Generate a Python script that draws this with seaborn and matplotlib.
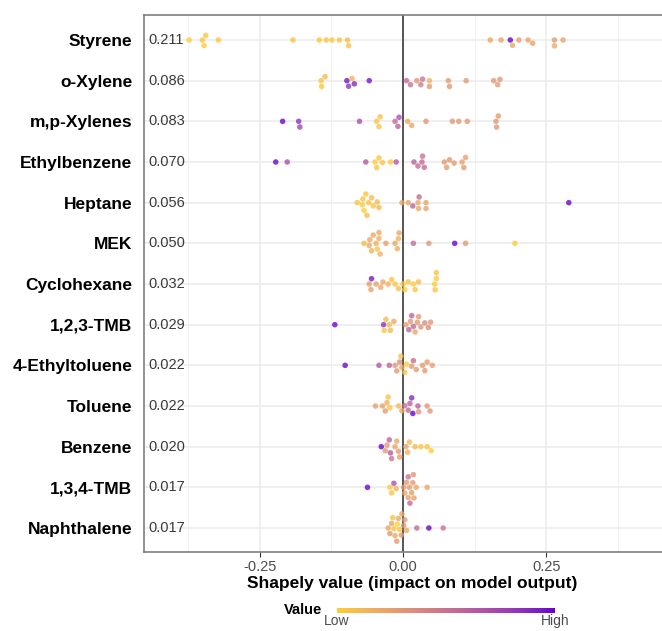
import numpy as np
import pandas as pd
import seaborn as sns
import matplotlib.pyplot as plt
from matplotlib.colors import LinearSegmentedColormap, Normalize, to_rgb
from matplotlib.cm import ScalarMappable

# features in plot order (top -> bottom) and mean |SHAP| labels
features = ['Styrene', 'o-Xylene', 'm,p-Xylenes', 'Ethylbenzene', 'Heptane', 'MEK',
            'Cyclohexane', '1,2,3-TMB', '4-Ethyltoluene', 'Toluene', 'Benzene',
            '1,3,4-TMB', 'Naphthalene']
mean_abs = ['0.211', '0.086', '0.083', '0.070', '0.056', '0.050', '0.032',
            '0.029', '0.022', '0.022', '0.020', '0.017', '0.017']

# shap values per feature
shap_styrene = [-0.373, -0.350, -0.347, -0.344, -0.322, -0.192, -0.146, -0.134, -0.124, -0.111,
                -0.097, -0.095, 0.152, 0.171, 0.187, 0.191, 0.202, 0.218, 0.226, 0.264, 0.264, 0.279]
shap_oxylene = [-0.143, -0.142, -0.136, -0.098, -0.095, -0.089, -0.085, -0.059, 0.006, 0.013,
                0.024, 0.031, 0.034, 0.046, 0.046, 0.079, 0.081, 0.110, 0.158, 0.165, 0.169]
shap_mpxyl = [-0.210, -0.182, -0.180, -0.076, -0.046, -0.042, -0.040, -0.014, -0.009, -0.007,
              0.008, 0.015, 0.040, 0.086, 0.097, 0.112, 0.162, 0.163, 0.166]
shap_ethylbz = [-0.222, -0.202, -0.065, -0.049, -0.046, -0.042, -0.036, -0.022, -0.012, 0.019,
                0.026, 0.033, 0.034, 0.037, 0.072, 0.076, 0.081, 0.089, 0.103, 0.106, 0.109]
shap_heptane = [-0.080, -0.071, -0.070, -0.068, -0.065, -0.063, -0.060, -0.055, -0.052, -0.045,
                -0.042, -0.002, 0.009, 0.017, 0.026, 0.027, 0.028, 0.040, 0.040, 0.289]
shap_mek = [-0.068, -0.059, -0.058, -0.055, -0.052, -0.047, -0.045, -0.042, -0.042, -0.040,
            -0.030, -0.014, -0.010, -0.008, -0.007, 0.018, 0.045, 0.090, 0.109, 0.195]
shap_cyclohex = [-0.059, -0.056, -0.055, -0.047, -0.039, -0.035, -0.026, -0.020, -0.014, -0.008,
                 0.000, 0.003, 0.009, 0.018, 0.021, 0.027, 0.055, 0.056, 0.058, 0.058]
shap_tmb123 = [-0.119, -0.034, -0.033, -0.030, -0.024, -0.022, -0.016, 0.005, 0.010, 0.013,
               0.015, 0.018, 0.021, 0.025, 0.027, 0.031, 0.038, 0.044, 0.048]
shap_ethyltol = [-0.101, -0.042, -0.024, -0.014, -0.011, -0.006, -0.004, -0.002, 0.003, 0.006,
                 0.015, 0.018, 0.023, 0.034, 0.038, 0.042, 0.051]
shap_toluene = [-0.048, -0.036, -0.031, -0.028, -0.026, -0.023, -0.008, -0.002, 0.003, 0.009,
                0.012, 0.015, 0.017, 0.026, 0.027, 0.042, 0.047]
shap_benzene = [-0.038, -0.031, -0.028, -0.024, -0.022, -0.020, -0.014, -0.011, -0.008, -0.006,
                0.005, 0.008, 0.011, 0.021, 0.031, 0.042, 0.049]
shap_tmb134 = [-0.062, -0.023, -0.020, -0.016, -0.012, 0.001, 0.003, 0.006, 0.009, 0.009,
               0.011, 0.012, 0.015, 0.017, 0.018, 0.019, 0.023, 0.042]
shap_naphth = [-0.026, -0.023, -0.020, -0.018, -0.016, -0.014, -0.011, -0.010, -0.008, -0.006,
               -0.003, -0.002, 0.001, 0.003, 0.006, 0.024, 0.045, 0.070]

# scaled feature values (0 = low, 1 = high)
val_styrene = [0.0, 0.02, 0.0, 0.03, 0.02, 0.05, 0.03, 0.04, 0.02, 0.05, 0.08, 0.06,
               0.2, 0.22, 1.0, 0.2, 0.26, 0.22, 0.24, 0.27, 0.2, 0.22]
val_oxylene = [0.05, 0.05, 0.1, 0.95, 0.85, 0.15, 0.9, 0.95, 0.55, 0.5,
               0.3, 0.45, 0.5, 0.15, 0.28, 0.28, 0.3, 0.28, 0.28, 0.28, 0.3]
val_mpxyl = [1.0, 0.85, 0.75, 0.7, 0.05, 0.05, 0.05, 0.55, 0.6, 0.7,
             0.2, 0.22, 0.3, 0.3, 0.3, 0.28, 0.3, 0.3, 0.28]
val_ethylbz = [1.0, 0.7, 0.65, 0.0, 0.05, 0.05, 0.05, 0.0, 0.65, 0.6,
               0.55, 0.55, 0.5, 0.55, 0.28, 0.28, 0.3, 0.28, 0.25, 0.28, 0.25]
val_heptane = [0.05, 0.0, 0.05, 0.0, 0.05, 0.08, 0.05, 0.1, 0.05, 0.1,
               0.12, 0.2, 0.22, 0.6, 0.2, 0.2, 0.55, 0.22, 0.22, 1.0]
val_mek = [0.1, 0.18, 0.2, 0.15, 0.2, 0.15, 0.05, 0.18, 0.2, 0.15,
           0.25, 0.2, 0.18, 0.15, 0.2, 0.55, 0.3, 1.0, 0.3, 0.0]
val_cyclohex = [0.28, 0.25, 0.95, 0.25, 0.2, 0.2, 0.15, 0.05, 0.05, 0.08,
                0.05, 0.0, 0.05, 0.0, 0.05, 0.08, 0.0, 0.05, 0.0, 0.05]
val_tmb123 = [1.0, 0.85, 0.05, 0.1, 0.1, 0.1, 0.2, 0.25, 0.6, 0.3,
              0.6, 0.55, 0.22, 0.3, 0.28, 0.3, 0.35, 0.35, 0.3]
val_ethyltol = [1.0, 0.65, 0.6, 0.3, 0.28, 0.35, 0.05, 0.2, 0.05, 0.0,
                0.28, 0.55, 0.28, 0.28, 0.28, 0.28, 0.25]
val_toluene = [0.25, 0.25, 0.28, 0.15, 0.05, 0.05, 0.1, 0.2, 0.5, 0.55,
               0.6, 0.9, 1.0, 0.6, 0.3, 0.3, 0.3]
val_benzene = [1.0, 0.28, 0.28, 0.6, 0.65, 0.5, 0.22, 0.2, 0.28, 0.25,
               0.22, 0.15, 0.1, 0.1, 0.05, 0.05, 0.0]
val_tmb134 = [1.0, 0.0, 0.05, 0.7, 0.15, 0.28, 0.2, 0.28, 0.25, 0.5,
              0.28, 0.55, 0.28, 0.28, 0.3, 0.25, 0.2, 0.2]
val_naphth = [0.2, 0.3, 0.22, 0.05, 0.05, 0.2, 0.28, 0.0, 0.2, 0.05,
              0.28, 0.2, 0.3, 0.3, 0.2, 0.55, 1.0, 0.5]

shap_all = [shap_styrene, shap_oxylene, shap_mpxyl, shap_ethylbz, shap_heptane, shap_mek,
            shap_cyclohex, shap_tmb123, shap_ethyltol, shap_toluene, shap_benzene,
            shap_tmb134, shap_naphth]
val_all = [val_styrene, val_oxylene, val_mpxyl, val_ethylbz, val_heptane, val_mek,
           val_cyclohex, val_tmb123, val_ethyltol, val_toluene, val_benzene,
           val_tmb134, val_naphth]

rows = []
for f, s, v in zip(features, shap_all, val_all):
    for a, b in zip(s, v):
        rows.append((f, a, b))
df = pd.DataFrame(rows, columns=['feature', 'shap', 'value'])


# gradient interpolated in Lab space, like ggplot's scale_color_gradient
def srgb_to_lab(c):
    c = np.array(to_rgb(c))
    lin = np.where(c <= 0.04045, c / 12.92, ((c + 0.055) / 1.055) ** 2.4)
    M = np.array([[0.4124, 0.3576, 0.1805], [0.2126, 0.7152, 0.0722], [0.0193, 0.1192, 0.9505]])
    xyz = M @ lin / np.array([0.95047, 1.0, 1.08883])
    f = np.where(xyz > 0.008856, np.cbrt(xyz), 7.787 * xyz + 16 / 116)
    return np.array([116 * f[1] - 16, 500 * (f[0] - f[1]), 200 * (f[1] - f[2])])


def lab_to_srgb(lab):
    L, a, b = lab
    fy = (L + 16) / 116
    f = np.array([fy + a / 500, fy, fy - b / 200])
    xyz = np.where(f ** 3 > 0.008856, f ** 3, (f - 16 / 116) / 7.787) * np.array([0.95047, 1.0, 1.08883])
    Minv = np.array([[3.2406, -1.5372, -0.4986], [-0.9689, 1.8758, 0.0415], [0.0557, -0.2040, 1.0570]])
    lin = Minv @ xyz
    c = np.where(lin <= 0.0031308, 12.92 * lin, 1.055 * np.clip(lin, 0, None) ** (1 / 2.4) - 0.055)
    return np.clip(c, 0, 1)


lab_lo, lab_hi = srgb_to_lab('#FFCC33'), srgb_to_lab('#6600CC')
stops = [lab_to_srgb(lab_lo + t * (lab_hi - lab_lo)) for t in np.linspace(0, 1, 21)]
cmap = LinearSegmentedColormap.from_list('shap', stops)

sns.set_theme(style='white')
plt.rcParams['font.family'] = ['Liberation Sans', 'DejaVu Sans']

W, H = 662, 631
fig = plt.figure(figsize=(W / 100, H / 100), dpi=100)
ax = fig.add_axes([143.5 / W, 1 - 552 / H, (664 - 143.5) / W, (552 - 14.5) / H])

ax.axvline(0, color='#555555', lw=1.4, zorder=2)
sns.swarmplot(data=df, x='shap', y='feature', hue='value', order=features,
              palette=cmap, hue_norm=(0, 1), size=4.0, alpha=0.78,
              legend=False, ax=ax, zorder=3, linewidth=0)

ax.set_xlim(-0.4526, 0.455)
ax.set_ylim(12.59, -0.627)
ax.set_xticks([-0.25, 0, 0.25])
ax.set_xticklabels(['-0.25', '0.00', '0.25'])
ax.set_xticks([-0.375, -0.125, 0.125, 0.375], minor=True)
ax.grid(which='major', color='#EBEBEB', lw=1.1, zorder=0)
ax.grid(which='minor', axis='x', color='#F2F2F2', lw=0.8, zorder=0)
ax.set_axisbelow(True)

ax.tick_params(axis='y', length=0, pad=8, labelsize=12.5, labelcolor='black')
for t in ax.get_yticklabels():
    t.set_fontweight('bold')
ax.tick_params(axis='x', which='major', length=3.5, width=0.8, color='#333333',
               labelsize=10.5, labelcolor='#4D4D4D', pad=2, bottom=True)
ax.tick_params(axis='x', which='minor', length=0)

for sp in ax.spines.values():
    sp.set_color('#7F7F7F')
    sp.set_linewidth(1.2)

ax.set_ylabel('')
ax.set_xlabel('Shapely value (impact on model output)', fontsize=12.5,
              fontweight='bold', color='black')
ax.xaxis.set_label_coords((412 - 143.5) / (664 - 143.5), -0.045)

for i, m in enumerate(mean_abs):
    ax.text(0.009, i, m, transform=ax.get_yaxis_transform(), ha='left', va='center',
            fontsize=10.5, color='#3a3a3a', zorder=4)

# colour legend
cax = fig.add_axes([337 / W, 1 - 613 / H, (555 - 337) / W, 5 / H])
cb = fig.colorbar(ScalarMappable(norm=Normalize(0, 1), cmap=cmap), cax=cax,
                  orientation='horizontal', ticks=[0, 1])
cb.outline.set_visible(False)
cb.ax.set_xticklabels(['Low', 'High'])
cb.ax.tick_params(length=0, labelsize=10, labelcolor='#4D4D4D', pad=1)
fig.text(322 / W, 1 - 610.5 / H, 'Value', ha='right', va='center', fontsize=10.5,
         fontweight='bold', color='black')

fig.savefig('out.png', dpi=100)
